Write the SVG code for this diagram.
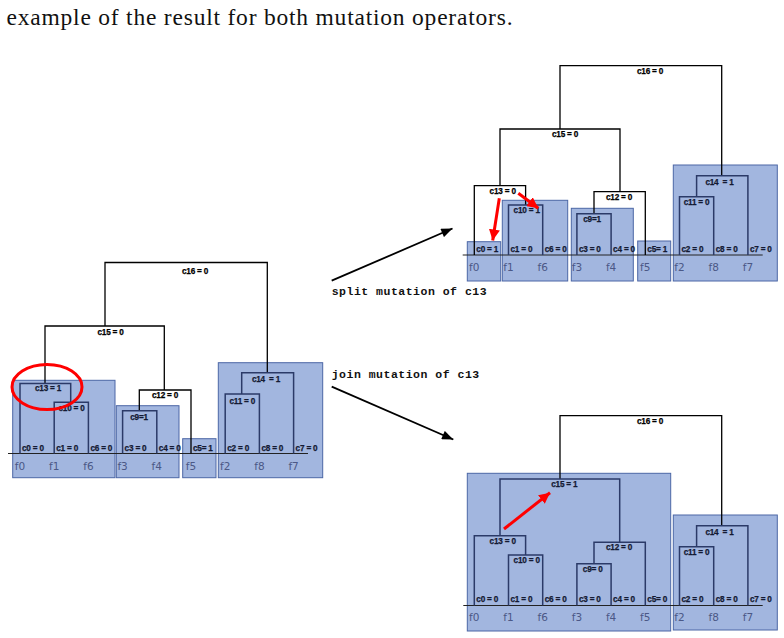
<svg xmlns="http://www.w3.org/2000/svg" width="784" height="638" viewBox="0 0 784 638">
<style>
.conn{stroke:#000;stroke-width:1.3;fill:none}
.inner{stroke:#2b3a68;stroke-width:1.5;fill:none}
.base{stroke:#222;stroke-width:1;fill:none}
.box{fill:#a2b6df;stroke:#4c67a6;stroke-width:1}
.lbl{font-family:"Liberation Sans",Arial,sans-serif;font-weight:bold;font-size:8.2px;letter-spacing:-0.2px;text-anchor:middle;fill:#000;stroke:#000;stroke-width:0.25}
.lbi{font-family:"Liberation Sans",Arial,sans-serif;font-weight:bold;font-size:8.2px;letter-spacing:-0.2px;text-anchor:middle;fill:#141a33;stroke:#141a33;stroke-width:0.25}
.leaf{font-family:"Liberation Sans",Arial,sans-serif;font-weight:bold;font-size:8.2px;letter-spacing:-0.2px;fill:#141a33;stroke:#141a33;stroke-width:0.25}
.f{font-family:"DejaVu Sans",sans-serif;font-size:10.5px;fill:#4b5886;text-anchor:middle}
.mono{font-family:"Liberation Mono",monospace;font-weight:bold;font-size:11.5px;letter-spacing:0.5px;fill:#111}
.arr{stroke:#000;stroke-width:1.8;fill:none}
.red{stroke:#f00;stroke-width:3;fill:none}
</style>
<defs>
<marker id="ab" viewBox="0 0 10 8" refX="10" refY="4" markerWidth="12" markerHeight="9" markerUnits="userSpaceOnUse" orient="auto"><path d="M0,0 L10,4 L0,8 z" fill="#000"/></marker>
<marker id="ar" viewBox="0 0 10 10" refX="10" refY="5" markerWidth="11" markerHeight="11" markerUnits="userSpaceOnUse" orient="auto"><path d="M0,0 L10,5 L0,10 z" fill="#f00"/></marker>
</defs>
<rect width="784" height="638" fill="#fff"/>
<text x="6.5" y="25" font-family="Liberation Serif,serif" font-size="23.5" textLength="506" lengthAdjust="spacing" fill="#111">example of the result for both mutation operators.</text>

<!-- LEFT TREE -->
<g id="left-tree">
<g id="L-boxes">
<rect class="box" x="12.7" y="380.3" width="102.3" height="97.4"/>
<rect class="box" x="116.3" y="405.7" width="62.7" height="72"/>
<rect class="box" x="182.7" y="438.7" width="33.3" height="39"/>
<rect class="box" x="218.3" y="362.7" width="104.4" height="115"/>
</g>
<path class="base" d="M8 453.5 H308"/>
<g id="L-c16"><path class="conn" d="M105 326 V262.5 H267.3 V372.7"/><text class="lbl" x="195" y="273.5">c16 = 0</text></g>
<g id="L-c15"><path class="conn" d="M45 383.5 V326 H164.3 V390"/><text class="lbl" x="110.5" y="334.5">c15 = 0</text></g>
<g id="L-c13"><path class="inner" d="M20 453.5 V383.5 H70.7 V402.3"/><text class="lbi" x="48" y="391">c13 = 1</text></g>
<g id="L-c10"><path class="inner" d="M54.2 453.5 V402.3 H88.4 V453.5"/><text class="lbi" x="71.5" y="410.5">c10 = 0</text></g>
<g id="L-c12"><path class="conn" d="M139.3 410.7 V390 H191 V453.5"/><text class="lbl" x="165" y="398">c12 = 0</text></g>
<g id="L-c9"><path class="inner" d="M122.6 453.5 V410.7 H156.8 V453.5"/><text class="lbi" x="139" y="419.5">c9=1</text></g>
<g id="L-c14"><path class="inner" d="M241.7 394 V372.7 H293.6 V453.5"/><text class="lbi" x="266" y="382">c14&#160; = 1</text></g>
<g id="L-c11"><path class="inner" d="M225.2 453.5 V394 H259.4 V453.5"/><text class="lbi" x="242.3" y="403.5">c11 = 0</text></g>
<g id="L-leaves">
<text class="leaf" x="22" y="450.5">c0 = 0</text>
<text class="leaf" x="56.2" y="450.5">c1 = 0</text>
<text class="leaf" x="90.4" y="450.5">c6 = 0</text>
<text class="leaf" x="124.6" y="450.5">c3 = 0</text>
<text class="leaf" x="158.8" y="450.5">c4 = 0</text>
<text class="leaf" x="193" y="450.5">c5= 1</text>
<text class="leaf" x="227.2" y="450.5">c2 = 0</text>
<text class="leaf" x="261.4" y="450.5">c8 = 0</text>
<text class="leaf" x="295.6" y="450.5">c7 = 0</text>
<text class="f" x="20" y="469.5">f0</text>
<text class="f" x="54.2" y="469.5">f1</text>
<text class="f" x="88.4" y="469.5">f6</text>
<text class="f" x="122.6" y="469.5">f3</text>
<text class="f" x="156.8" y="469.5">f4</text>
<text class="f" x="191" y="469.5">f5</text>
<text class="f" x="225.2" y="469.5">f2</text>
<text class="f" x="259.4" y="469.5">f8</text>
<text class="f" x="293.6" y="469.5">f7</text>
</g>
<ellipse id="L-highlight" cx="47" cy="387" rx="35" ry="22.5" fill="none" stroke="#f00" stroke-width="3"/>
</g>

<!-- TOP RIGHT TREE (split) -->
<g id="split-tree">
<g id="S-boxes">
<rect class="box" x="467.3" y="241.7" width="33.4" height="39.3"/>
<rect class="box" x="502.3" y="200.3" width="65.4" height="80.7"/>
<rect class="box" x="571.3" y="208.3" width="62" height="72.7"/>
<rect class="box" x="637.7" y="241" width="33" height="40"/>
<rect class="box" x="673.3" y="165" width="104" height="116"/>
</g>
<path class="base" d="M462.7 255 H762.7"/>
<g id="S-c16"><path class="conn" d="M560 129 V65.7 H721.7 V175.7"/><text class="lbl" x="650" y="73.5">c16 = 0</text></g>
<g id="S-c15"><path class="conn" d="M500 185.7 V129 H620 V191.7"/><text class="lbl" x="565" y="137">c15 = 0</text></g>
<g id="S-c13"><path class="conn" d="M474.3 255 V185.7 H525.6 V205"/><text class="lbl" x="502.7" y="194">c13 = 0</text></g>
<g id="S-c10"><path class="inner" d="M508.5 255 V205 H542.7 V255"/><text class="lbi" x="526.7" y="213">c10 = 1</text></g>
<g id="S-c12"><path class="conn" d="M594 213.7 V191.7 H645.3 V255"/><text class="lbl" x="619" y="200">c12 = 0</text></g>
<g id="S-c9"><path class="inner" d="M576.9 255 V213.7 H611.1 V255"/><text class="lbi" x="592" y="221.5">c9=1</text></g>
<g id="S-c14"><path class="inner" d="M696.6 196.7 V175.7 H747.9 V255"/><text class="lbi" x="719.5" y="184.5">c14&#160; = 1</text></g>
<g id="S-c11"><path class="inner" d="M679.5 255 V196.7 H713.7 V255"/><text class="lbi" x="696.5" y="205">c11 = 0</text></g>
<g id="S-leaves">
<text class="leaf" x="476.3" y="252">c0 = 1</text>
<text class="leaf" x="510.5" y="252">c1 = 0</text>
<text class="leaf" x="544.7" y="252">c6 = 0</text>
<text class="leaf" x="578.9" y="252">c3 = 0</text>
<text class="leaf" x="613.1" y="252">c4 = 0</text>
<text class="leaf" x="647.3" y="252">c5= 1</text>
<text class="leaf" x="681.5" y="252">c2 = 0</text>
<text class="leaf" x="715.7" y="252">c8 = 0</text>
<text class="leaf" x="749.9" y="252">c7 = 0</text>
<text class="f" x="474.3" y="271">f0</text>
<text class="f" x="508.5" y="271">f1</text>
<text class="f" x="542.7" y="271">f6</text>
<text class="f" x="576.9" y="271">f3</text>
<text class="f" x="611.1" y="271">f4</text>
<text class="f" x="645.3" y="271">f5</text>
<text class="f" x="679.5" y="271">f2</text>
<text class="f" x="713.7" y="271">f8</text>
<text class="f" x="747.9" y="271">f7</text>
</g>
</g>

<!-- BOTTOM RIGHT TREE (join) -->
<g id="join-tree">
<g id="J-boxes">
<rect class="box" x="467.3" y="473.3" width="203.4" height="157.7"/>
<rect class="box" x="673.3" y="515" width="104" height="115"/>
</g>
<path class="base" d="M463.3 605.5 H762.7"/>
<g id="J-c16"><path class="conn" d="M560 479 V415.7 H721.7 V525.7"/><text class="lbl" x="650" y="423.5">c16 = 0</text></g>
<g id="J-c15"><path class="inner" d="M500 535.7 V479 H619.7 V542.3"/><text class="lbi" x="564.3" y="487">c15 = 1</text></g>
<g id="J-c13"><path class="inner" d="M474.3 605.5 V535.7 H525.6 V555"/><text class="lbi" x="502.7" y="543.5">c13 = 0</text></g>
<g id="J-c10"><path class="inner" d="M508.5 605.5 V555 H542.7 V605.5"/><text class="lbi" x="526.7" y="563">c10 = 0</text></g>
<g id="J-c12"><path class="inner" d="M594 563.7 V542.3 H645.3 V605.5"/><text class="lbi" x="619" y="550">c12 = 0</text></g>
<g id="J-c9"><path class="inner" d="M576.9 605.5 V563.7 H611.1 V605.5"/><text class="lbi" x="592.7" y="572">c9= 0</text></g>
<g id="J-c14"><path class="inner" d="M696.6 546.7 V525.7 H747.9 V605.5"/><text class="lbi" x="719.5" y="534.5">c14&#160; = 1</text></g>
<g id="J-c11"><path class="inner" d="M679.5 605.5 V546.7 H713.7 V605.5"/><text class="lbi" x="696.5" y="555">c11 = 0</text></g>
<g id="J-leaves">
<text class="leaf" x="476.3" y="602">c0 = 0</text>
<text class="leaf" x="510.5" y="602">c1 = 0</text>
<text class="leaf" x="544.7" y="602">c6 = 0</text>
<text class="leaf" x="578.9" y="602">c3 = 0</text>
<text class="leaf" x="613.1" y="602">c4 = 0</text>
<text class="leaf" x="647.3" y="602">c5= 0</text>
<text class="leaf" x="681.5" y="602">c2 = 0</text>
<text class="leaf" x="715.7" y="602">c8 = 0</text>
<text class="leaf" x="749.9" y="602">c7 = 0</text>
<text class="f" x="474.3" y="621">f0</text>
<text class="f" x="508.5" y="621">f1</text>
<text class="f" x="542.7" y="621">f6</text>
<text class="f" x="576.9" y="621">f3</text>
<text class="f" x="611.1" y="621">f4</text>
<text class="f" x="645.3" y="621">f5</text>
<text class="f" x="679.5" y="621">f2</text>
<text class="f" x="713.7" y="621">f8</text>
<text class="f" x="747.9" y="621">f7</text>
</g>
</g>

<!-- CONNECTORS -->
<g id="connectors">
<line class="arr" x1="331.7" y1="280.7" x2="452.5" y2="228.5" marker-end="url(#ab)"/>
<line class="arr" x1="331.7" y1="386.7" x2="453.3" y2="439.5" marker-end="url(#ab)"/>
<line class="red" x1="499.3" y1="198.3" x2="492.7" y2="240.5" marker-end="url(#ar)"/>
<line class="red" x1="518.3" y1="193.3" x2="538.3" y2="208.3" marker-end="url(#ar)"/>
<line class="red" x1="504" y1="529" x2="550" y2="492.7" marker-end="url(#ar)"/>
</g>
<text class="mono" x="331.7" y="295">split mutation of c13</text>
<text class="mono" x="331.7" y="378">join mutation of c13</text>
</svg>
